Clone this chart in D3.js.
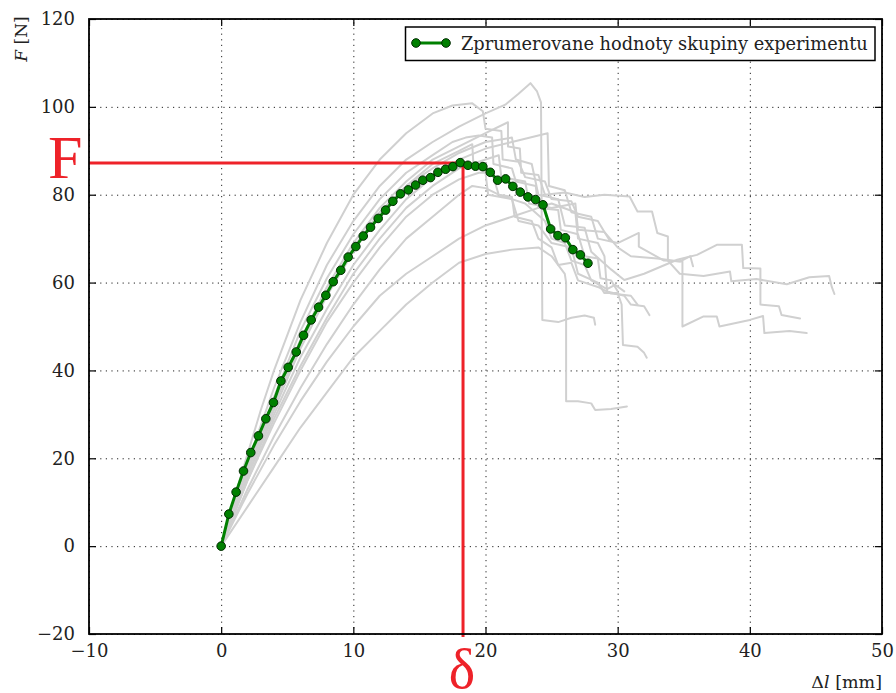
<!DOCTYPE html>
<html>
<head>
<meta charset="utf-8">
<script src="https://cdn.jsdelivr.net/npm/d3@7"></script>
<style>
  html, body { margin: 0; padding: 0; background: #fff; }
  svg { display: block; }
</style>
</head>
<body>
<svg id="chart" width="896" height="693"></svg>
<script>
// ---------------- DATA ----------------
const xTicks = [-10, 0, 10, 20, 30, 40, 50];
const yTicks = [-20, 0, 20, 40, 60, 80, 100, 120];
const xDomain = [-10, 50];
const yDomain = [-20, 120];

const legendLabel = "Zprumerovane hodnoty skupiny experimentu";
const xLabelMain = "Δ", xLabelVar = "l", xLabelUnit = " [mm]";
const yLabelVar = "F", yLabelUnit = " [N]";

// averaged curve
const meanX = [0, 0.58, 1.13, 1.69, 2.24, 2.82, 3.38, 3.96, 4.52, 5.07, 5.68, 6.23, 6.81, 7.37, 7.92, 8.48, 9.05, 9.61, 10.19, 10.75, 11.30, 11.88, 12.44, 12.99, 13.57, 14.16, 14.71, 15.26, 15.84, 16.40, 16.98, 17.53, 18.09, 18.67, 19.24, 19.80, 20.36, 20.92, 21.52, 22.07, 22.63, 23.21, 23.79, 24.35, 24.93, 25.48, 26.04, 26.61, 27.18, 27.75];
const meanY = [0, 7.3, 12.3, 17.1, 21.3, 25.1, 29.0, 32.7, 37.6, 40.7, 44.2, 48.0, 51.5, 54.4, 57.1, 60.2, 62.8, 65.8, 68.2, 70.6, 72.6, 74.6, 76.5, 78.5, 80.2, 81.1, 82.2, 83.3, 83.9, 85.1, 85.8, 86.4, 87.3, 86.7, 86.5, 86.4, 85.1, 83.3, 83.6, 81.9, 80.6, 79.5, 78.9, 77.7, 72.2, 70.7, 70.2, 67.5, 66.3, 64.4];

// marked maximum
const markF = 87.2;
const markDelta = 18.3;

// individual experiments [Δl, F]
const exp1 = [[0,0],[1,11],[2,21],[3,31],[4,40],[6,56],[8,69],[10,80],[12,88],[14,94],[16,98.5],[17.5,100.3],[19,100.8],[19.8,99],[20,95],[21.2,94.5],[21.3,88],[22.5,87.5],[23,84],[24.5,83],[25,79],[26.5,78.5],[27,75],[28.5,74],[29,71.5],[29.4,69.6]];
const exp2 = [[0,0],[2,19],[4,36],[6,51],[8,64],[10,74],[12,82],[14,88],[16,92],[18,95.5],[20,98.5],[21.5,100.5],[22.5,103],[23.4,105.4],[23.9,103.5],[24.2,101],[24.3,51.5],[25.5,51],[26.5,52],[27.5,52.5],[28.2,52],[28.3,50.4]];
const exp3 = [[0,0],[2,17],[4,33],[6,47],[8,59],[10,69],[12,77],[14,83],[16,88],[18,91],[20,94],[21.7,96.5],[21.7,91],[22.6,90.5],[22.7,85],[24,84.5],[24.5,80],[26,80.5],[27.5,79.5],[29,80],[30.9,79.6],[31.5,76.2],[32.6,76.2],[33,71.3],[33.8,70.5],[33.8,65],[34.7,62],[36.5,61.5],[38.5,62.5],[38.6,60.3],[40.5,60.8],[42.8,59.6],[44.5,61.2],[46.0,61.5],[46.2,59],[46.4,57.4]];
const exp4 = [[0,0],[2,16],[4,31],[6,45],[8,57],[10,67],[12,76],[14,82],[16,86],[18,89.5],[20,92],[22,93],[22.3,88],[23.5,87],[24,80],[25.5,79],[26,73],[27.5,72.5],[28,67],[29.5,63],[30.5,60.6],[32,62],[34.5,65.2],[36,66.3],[37.5,68.6],[39.4,68.6],[39.5,63.3],[40.8,63.2],[40.8,55],[42.2,54.6],[42.4,52.6],[43.8,51.8]];
const exp5 = [[0,0],[2,16],[4,30],[6,43],[8,54],[10,64],[12,72],[14,79],[16,84],[18,88],[20,90.5],[22,92],[24,93.5],[24.7,94],[24.8,82],[26,81],[26.5,76],[28,75],[28.5,70],[30,69],[31.6,71.3],[31.6,68.2],[33.5,65],[34.9,64.8],[34.9,50],[36.5,52.3],[37.5,52.3],[37.7,50],[40,51.5],[41,52.4],[41.1,48.5],[43,49],[44.3,48.5]];
const exp6 = [[0,0],[2,15],[4,29],[6,41],[8,52],[10,62],[12,70],[14,77],[16,82],[18,86],[20,88],[21,89],[21.2,84],[23,83],[23.3,78],[25,77],[26.8,78],[27,72],[29,71.5],[30,68],[31,66],[33,65.5],[34.7,64.8],[35.5,66],[35.7,63.7]];
const exp7 = [[0,0],[2,15],[4,28],[6,40],[8,51],[10,60],[12,68],[14,75],[16,80],[18,83.5],[19.5,85],[20,85],[20.2,80],[22,79],[22.5,74],[24,73],[25,69],[26.5,68],[27,62],[28.5,60],[29,57.6],[30,57.6],[30.3,55],[30.4,45.8],[31.5,45.4],[32,44],[32.2,42.9]];
const exp8 = [[0,0],[2,9],[4,18],[6,27],[8,35],[10,43],[12,49],[14,55],[16,60],[18,64.5],[20,66.5],[22,67.5],[24,68],[25,66],[26,62],[26.1,60],[26.1,33],[27,33],[28,32.5],[28.3,31],[29.5,31.2],[30.7,31.8]];
const exp9 = [[0,0],[2,12],[4,23],[6,33],[8,42],[10,50],[12,57],[14,62],[16,66],[18,70],[20,73],[22,75],[24,77],[25,78],[26.8,76],[27,70],[28.5,69],[29,66],[29.2,58],[30.5,57],[31,55],[32,54.6],[32.4,52.6]];
const exp10 = [[0,0],[2,17],[4,32],[6,46],[8,58],[10,68],[12,76],[14,82],[16,87],[18,90],[19,91.5],[19.1,86],[20.5,85],[21,80],[22,79.5],[22.2,75],[23.5,74],[24,70],[25,68],[25.5,64],[26.5,64.5],[27,60.5],[28.5,59],[29.5,57.5],[31,57],[31.5,55]];
const exp11 = [[0,0],[2,18],[4,34],[6,49],[8,61],[10,71],[12,79],[14,85],[16,89],[17.5,92],[18.5,93],[19.5,93.5],[20.5,93],[20.6,87],[22,86],[22.3,83],[23.8,82],[24,77],[25.5,76.5],[25.7,72],[27,71],[27.5,66],[28.5,65.5],[28.7,61],[29.5,60.5],[30,58]];
const exp12 = [[0,0],[2,13],[4,25],[6,36],[8,46],[10,55],[12,63],[14,70],[16,75],[18,80],[19,82],[20,81.5],[21,80],[22,79],[23,78],[24.5,74],[25,70],[26,69],[26.5,65],[27.5,64],[28,60.5],[29.2,58.5],[29.8,59.5],[30.5,58]];
const experiments = [exp1, exp2, exp3, exp4, exp5, exp6, exp7, exp8, exp9, exp10, exp11, exp12];

// ---------------- DRAW ----------------
const svg = d3.select("#chart");
const M = { left: 89, right: 882, top: 19, bottom: 634 };
const x = d3.scaleLinear().domain(xDomain).range([M.left, M.right]);
const y = d3.scaleLinear().domain(yDomain).range([M.bottom, M.top]);
const W = M.right - M.left, H = M.bottom - M.top;
const serif = "'DejaVu Serif', serif";

// grid
const grid = svg.append("g");
grid.append("g").attr("transform", `translate(0,${M.bottom})`)
  .call(d3.axisBottom(x).tickValues(xTicks).tickSize(-H).tickFormat(""))
  .call(g => g.select(".domain").remove())
  .call(g => g.selectAll("line").attr("stroke", "#222").attr("stroke-width", 1).attr("stroke-dasharray", "1.2,4.4"));
grid.append("g").attr("transform", `translate(${M.left},0)`)
  .call(d3.axisLeft(y).tickValues(yTicks).tickSize(-W).tickFormat(""))
  .call(g => g.select(".domain").remove())
  .call(g => g.selectAll("line").attr("stroke", "#222").attr("stroke-width", 1).attr("stroke-dasharray", "1.2,4.4"));

// experiments
const line = d3.line().x(d => x(d[0])).y(d => y(d[1]));
svg.append("g").selectAll("path").data(experiments).join("path")
  .attr("d", line)
  .attr("fill", "none").attr("stroke", "#d0d0d0").attr("stroke-width", 2)
  .attr("stroke-linejoin", "round").attr("stroke-linecap", "round");

// red marker lines
const red = "#ee2229";
svg.append("line").attr("x1", x(xDomain[0])).attr("x2", x(markDelta) + 1.5)
  .attr("y1", y(markF)).attr("y2", y(markF))
  .attr("stroke", red).attr("stroke-width", 3);
svg.append("line").attr("x1", x(markDelta)).attr("x2", x(markDelta))
  .attr("y1", y(markF)).attr("y2", y(yDomain[0]) + 3)
  .attr("stroke", red).attr("stroke-width", 3);

// mean curve
const meanData = meanX.map((v, i) => [v, meanY[i]]);
svg.append("path").datum(meanData).attr("d", line)
  .attr("fill", "none").attr("stroke", "#008000").attr("stroke-width", 3)
  .attr("stroke-linejoin", "round");
svg.append("g").selectAll("circle").data(meanData).join("circle")
  .attr("cx", d => x(d[0])).attr("cy", d => y(d[1])).attr("r", 4.3)
  .attr("fill", "#008000").attr("stroke", "#002a00").attr("stroke-width", 1);

// frame + inward ticks on all sides
const tickLen = 7;
const fmt = d => d < 0 ? "\u2212" + Math.abs(d) : d;
const axes = svg.append("g");
axes.append("g").attr("transform", `translate(0,${M.bottom})`)
  .call(d3.axisBottom(x).tickValues(xTicks).tickSizeInner(-tickLen).tickSizeOuter(0).tickPadding(10).tickFormat(fmt))
  .call(g => g.select(".domain").remove());
axes.append("g").attr("transform", `translate(0,${M.top})`)
  .call(d3.axisTop(x).tickValues(xTicks).tickSizeInner(-tickLen).tickSizeOuter(0).tickFormat(""))
  .call(g => g.select(".domain").remove());
axes.append("g").attr("transform", `translate(${M.left},0)`)
  .call(d3.axisLeft(y).tickValues(yTicks).tickSizeInner(-tickLen).tickSizeOuter(0).tickPadding(14).tickFormat(fmt))
  .call(g => g.select(".domain").remove());
axes.append("g").attr("transform", `translate(${M.right},0)`)
  .call(d3.axisRight(y).tickValues(yTicks).tickSizeInner(-tickLen).tickSizeOuter(0).tickFormat(""))
  .call(g => g.select(".domain").remove());
axes.selectAll(".tick line").attr("stroke", "#000").attr("stroke-width", 1.2);
axes.selectAll(".tick text").attr("font-family", serif).attr("font-size", 18).attr("fill", "#222");
svg.append("rect").attr("x", M.left).attr("y", M.top).attr("width", W).attr("height", H)
  .attr("fill", "none").attr("stroke", "#000").attr("stroke-width", 1.8);

// axis labels
const yl = svg.append("text").attr("transform", "translate(27,39) rotate(-90)")
  .attr("text-anchor", "middle").attr("font-family", serif).attr("font-size", 17).attr("fill", "#222");
yl.append("tspan").attr("font-style", "italic").text(yLabelVar);
yl.append("tspan").text(yLabelUnit);
const xl = svg.append("text").attr("x", 882).attr("y", 688)
  .attr("text-anchor", "end").attr("font-family", serif).attr("font-size", 17.5).attr("fill", "#222");
xl.append("tspan").text(xLabelMain);
xl.append("tspan").attr("font-style", "italic").text(xLabelVar);
xl.append("tspan").text(xLabelUnit);

// big red annotations
svg.append("text").attr("x", 48).attr("y", 178).attr("font-family", "'Liberation Serif', serif")
  .attr("font-size", 62).attr("fill", red).text("F");
svg.append("text").attr("x", x(markDelta) - 1).attr("y", 688).attr("text-anchor", "middle")
  .attr("font-family", "'Liberation Serif', serif").attr("font-size", 56).attr("fill", red).text("δ");

// legend
const lg = svg.append("g");
lg.append("rect").attr("x", 405.5).attr("y", 27).attr("width", 469.5).attr("height", 33.5)
  .attr("fill", "#fff").attr("stroke", "#000").attr("stroke-width", 1.5);
lg.append("line").attr("x1", 416).attr("x2", 446).attr("y1", 43).attr("y2", 43)
  .attr("stroke", "#008000").attr("stroke-width", 3);
lg.selectAll("circle").data([416, 446]).join("circle")
  .attr("cx", d => d).attr("cy", 43).attr("r", 4.3)
  .attr("fill", "#008000").attr("stroke", "#002a00").attr("stroke-width", 1);
lg.append("text").attr("x", 461).attr("y", 49.5).attr("font-family", serif)
  .attr("font-size", 17.8).attr("fill", "#222").text(legendLabel);
</script>
</body>
</html>
